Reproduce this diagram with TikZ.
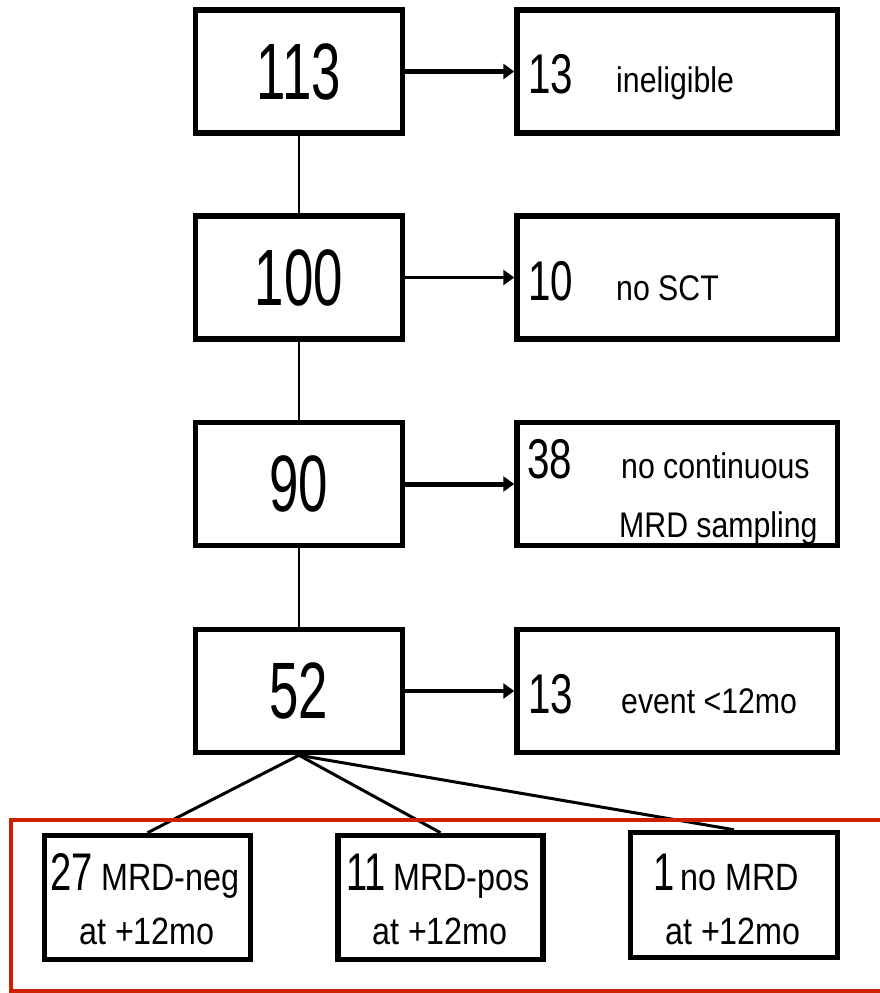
\documentclass[tikz,border=0pt]{standalone}
\usepackage{fontspec}
\setmainfont{Liberation Sans}
\newfontfamily\bignumfont[FakeStretch=0.66]{Liberation Sans}
\newfontfamily\numfont[FakeStretch=0.72]{Liberation Sans}
\newfontfamily\labfont[FakeStretch=0.85]{Liberation Sans}
\usetikzlibrary{arrows.meta}
\definecolor{framered}{RGB}{204,32,0}
\begin{document}
\begin{tikzpicture}[x=1pt,y=-1pt,
  box/.style={draw,line width=5.5pt,minimum height=123pt,inner sep=0pt},
  leftbox/.style={box,minimum width=207pt,font=\bignumfont\fontsize{80}{80}\selectfont},
  rightbox/.style={box,minimum width=320.5pt},
  botbox/.style={box,minimum width=206pt,minimum height=124pt},
  numtxt/.style={inner sep=0pt,anchor=base west,font=\numfont\fontsize{56}{56}\selectfont},
  labtxt/.style={inner sep=0pt,anchor=base west,font=\labfont\fontsize{35.6}{36}\selectfont},
  botline/.style={inner sep=0pt,anchor=base},
  vline/.style={line width=2.8pt},
  arrthick/.style={line width=5pt,-{Triangle[length=11pt,width=15pt]}},
  arrthin/.style={line width=3.6pt,-{Triangle[length=11pt,width=15pt]}},
  branch/.style={line width=3pt},
  redframe/.style={draw=framered,line width=4pt}
]
\useasboundingbox (0,0) rectangle (879,993);

% left column
\node[leftbox] (b113) at (299,71.5) {113};
\node[leftbox] (b100) at (299,277.5) {100};
\node[leftbox] (b90) at (299,484) {90};
\node[leftbox] (b52) at (299,691) {52};

% right column
\node[rightbox] (r1) at (677.25,71.5) {};
\node[rightbox] (r2) at (677.25,277.5) {};
\node[rightbox] (r3) at (677.25,484) {};
\node[rightbox] (r4) at (677.25,691) {};

% bottom boxes
\node[botbox] (m27) at (147.5,897.5) {};
\node[botbox,minimum width=205pt] (m11) at (440.5,897.5) {};
\node[botbox,minimum width=207pt,minimum height=125pt] (m1) at (734,895) {};

% connectors
\draw[vline] (b113) -- (b100);
\draw[vline] (b100) -- (b90);
\draw[vline] (b90) -- (b52);
\draw[arrthick] (b113.east) -- (r1.west);
\draw[arrthin] (b100.east) -- (r2.west);
\draw[arrthick] (b90.east) -- (r3.west);
\draw[arrthin] (b52.east) -- (r4.west);
\draw[branch] (b52.south) -- (m27.north);
\draw[branch] (b52.south) -- (m11.north);
\draw[branch] (b52.south) -- (m1.north);

% right texts
\node[numtxt] (n13) at (528,93) {13};
\node[labtxt] (t13) at (616,92) {ineligible};
\node[numtxt] (n10) at (528,300) {10};
\node[labtxt] (t10) at (616,300) {no SCT};
\node[numtxt] (n38) at (527,478) {38};
\node[labtxt] (t38a) at (621,478) {no continuous};
\node[labtxt] (t38b) at (619,537) {MRD sampling};
\node[numtxt] (n13b) at (528,713) {13};
\node[labtxt] (t13b) at (621,713) {event <12mo};

% bottom texts
\node[botline] (l27a) at (145,890) {{\numfont\fontsize{53}{53}\selectfont 27}\hspace{8pt}{\labfont\fontsize{38}{38}\selectfont MRD-neg}};
\node[botline,font=\labfont\fontsize{38}{38}\selectfont] (l27b) at (147,944) {at +12mo};
\node[botline] (l11a) at (438,890) {{\numfont\fontsize{53}{53}\selectfont 11}\hspace{7pt}{\labfont\fontsize{38}{38}\selectfont MRD-pos}};
\node[botline,font=\labfont\fontsize{38}{38}\selectfont] (l11b) at (440,944) {at +12mo};
\node[botline] (l1a) at (726,890) {{\numfont\fontsize{53}{53}\selectfont 1}\hspace{6pt}{\labfont\fontsize{38}{38}\selectfont no MRD}};
\node[botline,font=\labfont\fontsize{38}{38}\selectfont] (l1b) at (733,944) {at +12mo};

% red highlight frame
\draw[redframe] (882,819.5) -- (11,819.5) -- (11,991) -- (882,991);
\end{tikzpicture}
\end{document}
